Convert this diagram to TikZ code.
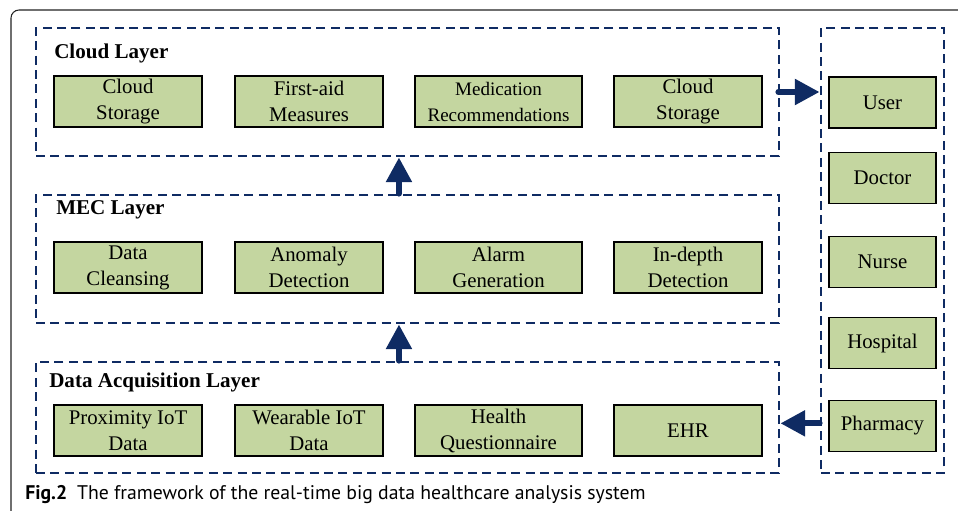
\documentclass[tikz,border=0pt]{standalone}
\usepackage{fontspec}
\setmainfont{Liberation Serif}
\newfontfamily\capfont{PT Sans}
\usetikzlibrary{arrows.meta}

\definecolor{navy}{HTML}{0F2B63}
\definecolor{leafgreen}{HTML}{C4D6A0}
\definecolor{framegray}{HTML}{222222}

\begin{document}
\begin{tikzpicture}[x=0.75pt, y=-0.75pt,
    greenbox/.style={draw=black, line width=1.4pt, fill=leafgreen, align=center,
      minimum width=111pt, minimum height=38.25pt, inner sep=0pt,
      font=\fontsize{15.6}{19.5}\selectfont},
    actorbox/.style={greenbox, minimum width=80.25pt},
    layerbox/.style={draw=navy, line width=2.1pt, dash pattern=on 6.8pt off 4pt,
      minimum width=557.25pt, minimum height=96pt, inner sep=0pt},
    layerlabel/.style={anchor=west, inner sep=0pt, font=\fontsize{15.8}{18}\selectfont\bfseries},
    flow/.style={draw=navy, line width=4.5pt, line cap=round,
      -{Triangle[length=18.5pt, width=18.5pt]}}]
  % keep the page at the size of the figure
  \path[use as bounding box] (0,0) rectangle (958,511);
  \draw[framegray, line width=0.8pt, rounded corners=6pt] (11,515) -- (11,10) -- (962,10);

  % layers
  \node[layerbox] (cloud) at (407.5,92) {};
  \node[layerbox] (mec) at (407.5,259) {};
  \node[layerbox, minimum height=83.25pt] (acq) at (407.5,417.5) {};
  \node[layerbox, minimum width=92.25pt, minimum height=333.75pt] (actors) at (882.5,250.5) {};

  \node[layerlabel] (cloudlbl) at (54,53) {Cloud Layer};
  \node[layerlabel] (meclbl) at (56,210) {MEC Layer};
  \node[layerlabel] (acqlbl) at (49,382) {Data Acquisition Layer};

  % cloud layer
  \node[greenbox] (store1) at (128,101.5) {Cloud\\Storage};
  \node[greenbox] (firstaid) at (309,101.5) {First-aid\\Measures};
  \node[greenbox, minimum width=125.25pt, font=\fontsize{14.3}{19.5}\selectfont] (medic) at (498.5,101.5) {Medication\\Recommendations};
  \node[greenbox] (store2) at (688,101.5) {Cloud\\Storage};

  % mec layer
  \node[greenbox] (cleanse) at (128,267.5) {Data\\Cleansing};
  \node[greenbox] (anomaly) at (309,267.5) {Anomaly\\Detection};
  \node[greenbox, minimum width=125.25pt] (alarm) at (498.5,267.5) {Alarm\\Generation};
  \node[greenbox] (indepth) at (688,267.5) {In-depth\\Detection};

  % data acquisition layer
  \node[greenbox] (proxim) at (128,430.5) {Proximity IoT\\Data};
  \node[greenbox] (wear) at (309,430.5) {Wearable IoT\\Data};
  \node[greenbox, minimum width=125.25pt] (quest) at (498.5,430.5) {Health\\Questionnaire};
  \node[greenbox] (ehr) at (688,430.5) {EHR};

  % users of the system
  \foreach \name/\y/\txt in {user/102.5/User, doctor/178/Doctor, nurse/262/Nurse,
      hosp/343/Hospital, pharm/426/Pharmacy}
    \node[actorbox] (\name) at (882.5,\y) {\txt};

  \draw[flow] ([xshift=-6.4pt]acq.north) -- ([xshift=-6.4pt]mec.south);
  \draw[flow] ([xshift=-6.4pt]mec.north) -- ([xshift=-6.4pt]cloud.south);
  \draw[flow] ([xshift=-1.5pt]cloud.east) -- (actors.west |- cloud.east);
  \draw[flow] ([yshift=2pt]pharm.west -| actors.west) -- ([yshift=2pt]pharm.west -| acq.east);

  \node[anchor=base west, inner sep=0pt, font=\capfont\fontsize{14.8}{17}\selectfont]
    (caption) at (25,499) {\textbf{Fig.2}\hspace{0.5em}The framework of the real-time big data healthcare analysis system};
\end{tikzpicture}
\end{document}
